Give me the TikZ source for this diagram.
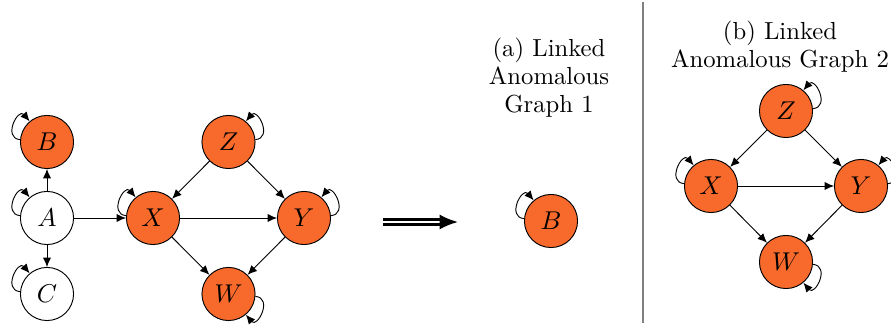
\documentclass[tikz,border=0pt]{standalone}
\usetikzlibrary{arrows.meta}
\definecolor{anom}{RGB}{248,106,44}
\begin{document}
\begin{tikzpicture}[x=0.4255pt,y=-0.4255pt,
  every node/.style={font=\fontsize{10.5pt}{11.9pt}\selectfont},
  vnode/.style={circle,draw,line width=0.4pt,minimum size=22.6pt,inner sep=0pt},
  anode/.style={vnode,fill=anom},
  arr/.style={-{Latex[length=4pt,width=3.5pt]},line width=0.4pt},
  selfl/.style={arr,distance=7.6pt},
  caption/.style={align=center,anchor=north,inner sep=0pt}]
\useasboundingbox (0,0) rectangle (891,325);
% left graph
\node[anode] (B1) at (47,142) {$B$};
\node[vnode] (A)  at (47,218) {$A$};
\node[vnode] (C)  at (47,294) {$C$};
\node[anode] (X1) at (153,218) {$X$};
\node[anode] (Y1) at (304,218) {$Y$};
\node[anode] (Z1) at (228.5,142) {$Z$};
\node[anode] (W1) at (228.5,294) {$W$};
\draw[arr] (A) -- (B1);
\draw[arr] (A) -- (C);
\draw[arr] (A) -- (X1);
\draw[arr] (Z1) -- (X1);
\draw[arr] (Z1) -- (Y1);
\draw[arr] (X1) -- (Y1);
\draw[arr] (X1) -- (W1);
\draw[arr] (Y1) -- (W1);
\draw[selfl] (B1) to[out=175,in=130] (B1);
\draw[selfl] (A) to[out=175,in=130] (A);
\draw[selfl] (C) to[out=175,in=130] (C);
\draw[selfl] (X1) to[out=175,in=130] (X1);
\draw[selfl] (Z1) to[out=5,in=50] (Z1);
\draw[selfl] (Y1) to[out=5,in=50] (Y1);
\draw[selfl] (W1) to[out=-5,in=-50] (W1);
% double arrow
\coordinate (d1) at (383,222);
\coordinate (d2) at (458,222);
\draw[double,line width=0.95pt,double distance=1.2pt,-{Latex[length=7.8pt,width=6.4pt]}] (d1) -- (d2);
% (a)
\node[caption] (capa) at (549,38) {(a) Linked\\Anomalous\\Graph 1};
\node[anode] (Ba) at (551,221) {$B$};
\draw[selfl] (Ba) to[out=175,in=130] (Ba);
% separator
\coordinate (s1) at (643,2);
\coordinate (s2) at (643,323);
\draw[gray,line width=0.6pt] (s1) -- (s2);
% (b)
\node[caption] (capb) at (780,21) {(b) Linked\\Anomalous Graph 2};
\node[anode] (Zb) at (786,111) {$Z$};
\node[anode] (Xb) at (711,186) {$X$};
\node[anode] (Yb) at (861,186) {$Y$};
\node[anode] (Wb) at (786,262) {$W$};
\draw[arr] (Zb) -- (Xb);
\draw[arr] (Zb) -- (Yb);
\draw[arr] (Xb) -- (Yb);
\draw[arr] (Xb) -- (Wb);
\draw[arr] (Yb) -- (Wb);
\draw[selfl] (Xb) to[out=175,in=130] (Xb);
\draw[selfl] (Zb) to[out=5,in=50] (Zb);
\draw[selfl] (Yb) to[out=5,in=50] (Yb);
\draw[selfl] (Wb) to[out=-5,in=-50] (Wb);
\end{tikzpicture}
\end{document}
